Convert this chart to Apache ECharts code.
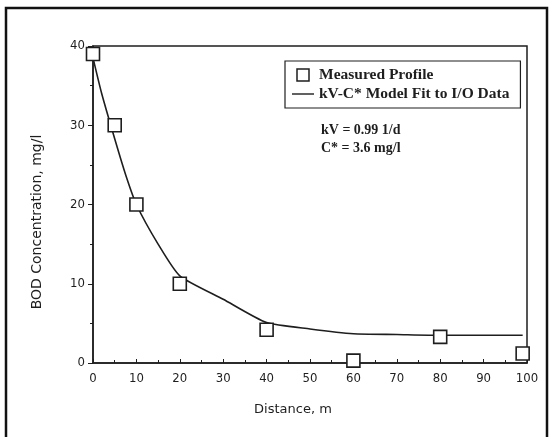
<!DOCTYPE html>
<html>
<head>
<meta charset="utf-8">
<script src="https://cdn.jsdelivr.net/npm/echarts@6/dist/echarts.min.js"></script>
<style>
  html, body { margin: 0; padding: 0; background: #fff; }
  #chart { width: 553px; height: 437px; }
</style>
</head>
<body>
<div id="chart"></div>
<script>
// measured BOD profile (distance m, mg/l)
var measuredX = [0, 5, 10, 20, 40, 60, 80, 99];
var measuredY = [39, 30, 20, 10, 4.2, 0.3, 3.3, 1.2];

// kV-C* model fit curve
var modelX = [0, 2, 5, 7.5, 10, 15, 20, 30, 40, 50, 60, 70, 80, 99];
var modelY = [38.5, 34, 28.3, 23.8, 20, 15, 11, 8.05, 5.1, 4.3, 3.7, 3.6, 3.5, 3.5];

var xTicks = [0, 10, 20, 30, 40, 50, 60, 70, 80, 90, 100];
var yTicks = [0, 10, 20, 30, 40];

var ink = '#1e1e1e';
var tickFont = '"DejaVu Sans Condensed", "Liberation Sans", sans-serif';
var chart = echarts.init(document.getElementById('chart'));

var pairs = function (xs, ys) {
    return xs.map(function (x, i) { return [x, ys[i]]; });
};

chart.setOption({
    backgroundColor: '#fff',
    animation: false,
    grid: {
        left: 93, right: 26, top: 46, bottom: 74,
        show: true, borderColor: ink, borderWidth: 1.5
    },
    legend: {
        orient: 'vertical',
        left: 285, top: 61,
        padding: [6, 11, 6, 7],
        itemGap: 3,
        itemWidth: 22, itemHeight: 12,
        borderColor: ink, borderWidth: 1.2,
        textStyle: { fontFamily: 'Liberation Serif', fontSize: 15.5, color: ink, fontWeight: 'bold' },
        data: [
            { name: 'Measured Profile', icon: 'path://M0,0 L10,0 L10,10 L0,10 Z',
              itemStyle: { color: '#fff', borderColor: ink, borderWidth: 1.5 } },
            { name: 'kV-C* Model Fit to I/O Data', icon: 'path://M0,0 L22,0 L22,1.4 L0,1.4 Z',
              itemStyle: { color: ink, borderWidth: 0 } }
        ]
    },
    xAxis: {
        type: 'value', min: 0, max: 100, interval: 10,
        name: 'Distance, m', nameLocation: 'middle', nameGap: 40,
        nameTextStyle: { fontFamily: 'DejaVu Sans', fontSize: 13, color: ink, padding: [0, 34, 0, 0] },
        axisLine: { lineStyle: { color: ink, width: 1.5 } },
        axisTick: { inside: true, length: 4, lineStyle: { color: ink } },
        minorTick: { show: true, splitNumber: 2, length: 3, lineStyle: { color: ink } },
        splitLine: { show: false },
        axisLabel: {
            margin: 9, color: ink, fontFamily: tickFont, fontSize: 13,
            formatter: function (v) { return xTicks.indexOf(v) >= 0 ? String(v) : ''; }
        }
    },
    yAxis: {
        type: 'value', min: 0, max: 40, interval: 10,
        axisLine: { lineStyle: { color: ink, width: 1.5 } },
        axisTick: { length: 5, lineStyle: { color: ink } },
        minorTick: { show: true, splitNumber: 2, length: 3, lineStyle: { color: ink } },
        splitLine: { show: false },
        axisLabel: {
            margin: 8, color: ink, fontFamily: tickFont, fontSize: 13,
            formatter: function (v) { return yTicks.indexOf(v) >= 0 ? String(v) : ''; }
        }
    },
    graphic: [
        { type: 'rect', shape: { x: 6, y: 8, width: 541, height: 440 },
          style: { fill: 'none', stroke: '#111', lineWidth: 2.5 } },
        { type: 'text', x: 37, y: 222, rotation: Math.PI / 2,
          style: { text: 'BOD Concentration, mg/l', fill: ink, align: 'center', verticalAlign: 'middle',
                   font: '14px "DejaVu Sans"' } },
        { type: 'text', left: 321, top: 121,
          style: { text: 'kV = 0.99 1/d\nC* = 3.6 mg/l', fill: ink, lineHeight: 18,
                   font: 'bold 14px "Liberation Serif"' } }
    ],
    series: [
        {
            name: 'kV-C* Model Fit to I/O Data',
            type: 'line',
            data: pairs(modelX, modelY),
            symbol: 'none',
            smooth: 0.2,
            lineStyle: { color: ink, width: 1.6 },
            itemStyle: { color: ink },
            z: 2
        },
        {
            name: 'Measured Profile',
            type: 'scatter',
            data: pairs(measuredX, measuredY),
            symbol: 'rect', symbolSize: 13,
            itemStyle: { color: '#fff', borderColor: ink, borderWidth: 1.6, opacity: 1 },
            z: 3
        }
    ]
});
</script>
</body>
</html>
